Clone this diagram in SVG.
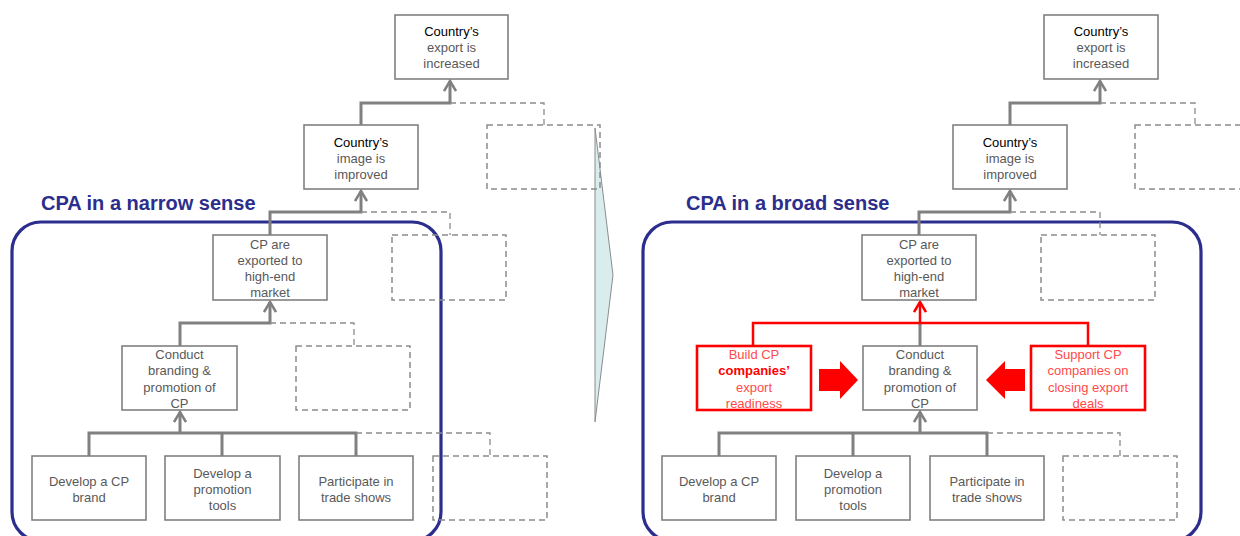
<svg xmlns="http://www.w3.org/2000/svg" width="1240" height="536" viewBox="0 0 1240 536">
  <style>
    .box { fill: #ffffff; stroke: #808080; stroke-width: 1.6; }
    .ghost { fill: none; stroke: #8c8c8c; stroke-width: 1.5; stroke-dasharray: 6 4; }
    .link { fill: none; stroke: #808080; stroke-width: 3; }
    .dash { fill: none; stroke: #8c8c8c; stroke-width: 1.3; stroke-dasharray: 6 4; }
    .redlink { fill: none; stroke: #ff0000; stroke-width: 2.5; }
    .rbox { fill: #ffffff; stroke: #ff0000; stroke-width: 2.6; }
    .frame { fill: none; stroke: #2b2e8c; stroke-width: 3.2; }
    text { font-family: "Liberation Sans", Arial, sans-serif; font-size: 13px; fill: #595959; text-anchor: middle; }
    .title { font-size: 20px; font-weight: bold; fill: #2b2e8c; text-anchor: start; }
    .dark { fill: #000000; }
    .rt { fill: #ff4a4a; }
    .rb { fill: #ff0000; font-weight: bold; }
  </style>
  <defs>
    <marker id="arrow" markerUnits="userSpaceOnUse" viewBox="-12 -7 14 14" markerWidth="14" markerHeight="14" refX="0" refY="0" orient="auto">
      <path d="M-10,-6 L0,0 L-10,6" fill="none" stroke="#808080" stroke-width="2.6"/>
    </marker>
    <marker id="arrowRed" markerUnits="userSpaceOnUse" viewBox="-12 -7 14 14" markerWidth="14" markerHeight="14" refX="0" refY="0" orient="auto">
      <path d="M-10,-6 L0,0 L-10,6" fill="none" stroke="#ff0000" stroke-width="2.6"/>
    </marker>
  </defs>

  <!-- transition chevron between the two views -->
  <polygon id="chevron" points="595,128 613,275 595,422" fill="#d9edef" stroke="#8c8c8c" stroke-width="1"/>

  <!-- ===================== narrow sense ===================== -->
  <g id="narrow-frame">
    <rect class="frame" x="12" y="222" width="429" height="319" rx="29"/>
    <text class="title" x="41" y="210">CPA in a narrow sense</text>
  </g>

  <g id="narrow-connectors">
    <path class="link" d="M361,125 V103 H450 V81" marker-end="url(#arrow)"/>
    <path class="dash" d="M450,103 H544 V125"/>
    <path class="link" d="M270,235 V212 H361 V191" marker-end="url(#arrow)"/>
    <path class="dash" d="M361,212 H450 V235"/>
    <path class="link" d="M180,346 V323 H270 V302" marker-end="url(#arrow)"/>
    <path class="dash" d="M270,323 H354 V346"/>
    <path class="link" d="M89,456 V433 H356 V456 M222,456 V433"/>
    <path class="link" d="M180,433 V412" marker-end="url(#arrow)"/>
    <path class="dash" d="M356,433 H490 V456"/>
  </g>

  <g id="n-export">
    <rect class="box" x="395" y="15" width="113" height="64"/>
    <text x="451.5" y="36" class="dark">Country’s</text>
    <text x="451.5" y="52">export is</text>
    <text x="451.5" y="68">increased</text>
  </g>
  <rect id="n-export-alt" class="ghost" x="487" y="125" width="113" height="64"/>

  <g id="n-image">
    <rect class="box" x="304" y="125" width="114" height="64"/>
    <text x="361" y="147" class="dark">Country’s</text>
    <text x="361" y="163">image is</text>
    <text x="361" y="179">improved</text>
  </g>
  <rect id="n-image-alt" class="ghost" x="392" y="235" width="114" height="65"/>

  <g id="n-market">
    <rect class="box" x="213" y="235" width="114" height="65"/>
    <text x="270" y="249">CP are</text>
    <text x="270" y="265">exported to</text>
    <text x="270" y="281">high-end</text>
    <text x="270" y="297">market</text>
  </g>
  <rect id="n-market-alt" class="ghost" x="296" y="346" width="114" height="64"/>

  <g id="n-branding">
    <rect class="box" x="122" y="346" width="115" height="64"/>
    <text x="179.5" y="359">Conduct</text>
    <text x="179.5" y="375">branding &amp;</text>
    <text x="179.5" y="392">promotion of</text>
    <text x="179.5" y="408">CP</text>
  </g>

  <g id="n-brand">
    <rect class="box" x="32" y="456" width="114" height="64"/>
    <text x="89" y="486">Develop a CP</text>
    <text x="89" y="502">brand</text>
  </g>
  <g id="n-tools">
    <rect class="box" x="165" y="456" width="115" height="64"/>
    <text x="222.5" y="478">Develop a</text>
    <text x="222.5" y="494">promotion</text>
    <text x="222.5" y="510">tools</text>
  </g>
  <g id="n-shows">
    <rect class="box" x="299" y="456" width="114" height="64"/>
    <text x="356" y="486">Participate in</text>
    <text x="356" y="502">trade shows</text>
  </g>
  <rect id="n-shows-alt" class="ghost" x="433" y="456" width="114" height="64"/>

  <!-- ===================== broad sense ===================== -->
  <g id="broad-frame">
    <rect class="frame" x="643" y="222" width="558" height="319" rx="29"/>
    <text class="title" x="686" y="210">CPA in a broad sense</text>
  </g>

  <g id="broad-connectors">
    <path class="link" d="M1010,125 V103 H1100 V81" marker-end="url(#arrow)"/>
    <path class="dash" d="M1100,103 H1195 V125"/>
    <path class="link" d="M919,235 V212 H1010 V191" marker-end="url(#arrow)"/>
    <path class="dash" d="M1010,212 H1100 V235"/>
    <path class="link" d="M920,346 V323"/>
    <path class="redlink" d="M753,346 V323 H1088 V346"/>
    <path class="redlink" d="M920,323 V302" marker-end="url(#arrowRed)"/>
    <path class="link" d="M719,456 V433 H987 V456 M853,456 V433"/>
    <path class="link" d="M920,433 V412" marker-end="url(#arrow)"/>
    <path class="dash" d="M987,433 H1120 V456"/>
    <polygon id="push-right" points="819,369 840,369 840,361 858,380 840,399 840,391 819,391" fill="#ff0000"/>
    <polygon id="push-left" points="1025,369 1005,369 1005,361 986,380 1005,399 1005,391 1025,391" fill="#ff0000"/>
  </g>

  <g id="b-export">
    <rect class="box" x="1044" y="15" width="114" height="64"/>
    <text x="1101" y="36" class="dark">Country’s</text>
    <text x="1101" y="52">export is</text>
    <text x="1101" y="68">increased</text>
  </g>
  <rect id="b-export-alt" class="ghost" x="1135" y="125" width="113" height="64"/>

  <g id="b-image">
    <rect class="box" x="953" y="125" width="114" height="64"/>
    <text x="1010" y="147" class="dark">Country’s</text>
    <text x="1010" y="163">image is</text>
    <text x="1010" y="179">improved</text>
  </g>
  <rect id="b-image-alt" class="ghost" x="1041" y="235" width="114" height="65"/>

  <g id="b-market">
    <rect class="box" x="862" y="235" width="114" height="65"/>
    <text x="919" y="249">CP are</text>
    <text x="919" y="265">exported to</text>
    <text x="919" y="281">high-end</text>
    <text x="919" y="297">market</text>
  </g>

  <g id="b-readiness">
    <rect class="rbox" x="697" y="346" width="114" height="64"/>
    <text x="754" y="359" class="rt">Build CP</text>
    <text x="754" y="375" class="rb">companies’</text>
    <text x="754" y="392" class="rt">export</text>
    <text x="754" y="408" class="rt">readiness</text>
  </g>

  <g id="b-branding">
    <rect class="box" x="863" y="346" width="114" height="64"/>
    <text x="920" y="359">Conduct</text>
    <text x="920" y="375">branding &amp;</text>
    <text x="920" y="392">promotion of</text>
    <text x="920" y="408">CP</text>
  </g>

  <g id="b-deals">
    <rect class="rbox" x="1031" y="346" width="114" height="64"/>
    <text x="1088" y="359" class="rt">Support CP</text>
    <text x="1088" y="375" class="rt">companies on</text>
    <text x="1088" y="392" class="rt">closing export</text>
    <text x="1088" y="408" class="rt">deals</text>
  </g>

  <g id="b-brand">
    <rect class="box" x="662" y="456" width="114" height="64"/>
    <text x="719" y="486">Develop a CP</text>
    <text x="719" y="502">brand</text>
  </g>
  <g id="b-tools">
    <rect class="box" x="796" y="456" width="114" height="64"/>
    <text x="853" y="478">Develop a</text>
    <text x="853" y="494">promotion</text>
    <text x="853" y="510">tools</text>
  </g>
  <g id="b-shows">
    <rect class="box" x="930" y="456" width="114" height="64"/>
    <text x="987" y="486">Participate in</text>
    <text x="987" y="502">trade shows</text>
  </g>
  <rect id="b-shows-alt" class="ghost" x="1063" y="456" width="114" height="64"/>
</svg>
